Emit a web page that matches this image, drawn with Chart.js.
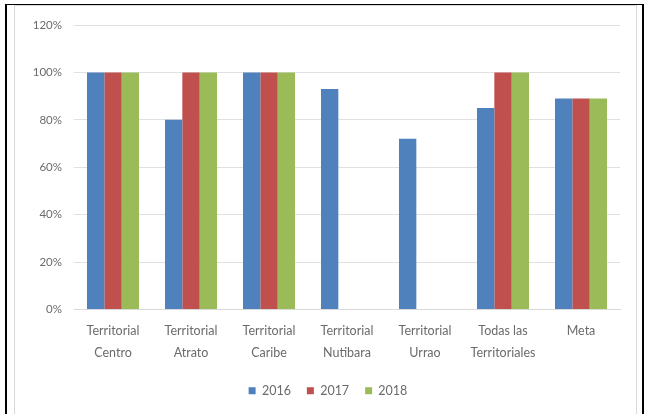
<!DOCTYPE html>
<html>
<head>
<meta charset="utf-8">
<script src="https://cdn.jsdelivr.net/npm/chart.js@4.4.0/dist/chart.umd.min.js"></script>
<style>
  html, body { margin: 0; padding: 0; background: #fff; }
  #wrap { position: relative; width: 651px; height: 414px; overflow: hidden; }
  #outer { position: absolute; left: 5px; top: 4px; width: 639px; height: 420px;
           border-left: 2px solid #000; border-top: 1px solid #000; border-right: 2px solid #000; box-sizing: border-box; }
  #inner { position: absolute; left: 14px; top: 5px; width: 623px; height: 420px;
           border: 1px solid #d9d9d9; box-sizing: border-box; }
  canvas { position: absolute; left: 0; top: 0; }
</style>
</head>
<body>
<div id="wrap">
  <div id="outer"></div>
  <div id="inner"></div>
  <canvas id="c" width="651" height="414"></canvas>
</div>
<script>
const categories = [
  ["Territorial", "Centro"],
  ["Territorial", "Atrato"],
  ["Territorial", "Caribe"],
  ["Territorial", "Nutibara"],
  ["Territorial", "Urrao"],
  ["Todas las", "Territoriales"],
  ["Meta"]
];
const seriesNames = ["2016", "2017", "2018"];
const values2016 = [100, 80, 100, 93, 72, 85, 89];
const values2017 = [100, 100, 100, null, null, 100, 89];
const values2018 = [100, 100, 100, null, null, 100, 89];
const yTicks = [0, 20, 40, 60, 80, 100, 120];
const colors = ["#4F81BD", "#C0504D", "#9BBB59"];

const fontFamily = "Lato, 'Open Sans', sans-serif";
const textColor = "#6b6b6b";

const legendShift = {
  id: "legendShift",
  afterLayout(chart) { if (chart.legend) chart.legend.left += 36; }
};

new Chart(document.getElementById("c"), {
  type: "bar",
  data: {
    labels: categories,
    datasets: [values2016, values2017, values2018].map((v, i) => ({
      label: seriesNames[i],
      data: v,
      backgroundColor: colors[i],
      borderWidth: 0,
      categoryPercentage: 0.667,
      barPercentage: 1.0
    }))
  },
  plugins: [legendShift],
  options: {
    responsive: false,
    animation: false,
    devicePixelRatio: 1,
    layout: { padding: { left: 0, right: 31, top: 25, bottom: 7 } },
    plugins: {
      tooltip: { enabled: false },
      legend: {
        position: "bottom",
        labels: {
          boxWidth: 7, boxHeight: 7, padding: 16,
          color: textColor,
          font: { family: fontFamily, size: 12.5 }
        }
      }
    },
    scales: {
      x: {
        grid: { display: false, drawTicks: false },
        border: { display: true, color: "#d9d9d9", width: 1 },
        ticks: {
          color: textColor, padding: 11, maxRotation: 0, autoSkip: false,
          font: { family: fontFamily, size: 12.5, lineHeight: 1.75 }
        },
        afterFit: (s) => { s.height = 59; }
      },
      y: {
        min: 0, max: 120,
        afterBuildTicks: (s) => { s.ticks = yTicks.map(v => ({ value: v })); },
        grid: { color: "#e0e0e0", drawTicks: false, lineWidth: 1 },
        border: { display: false },
        ticks: {
          color: textColor, padding: 12,
          font: { family: fontFamily, size: 11.5 },
          callback: (v) => v + "%"
        },
        afterFit: (s) => { s.width = 74; }
      }
    }
  }
});
</script>
</body>
</html>
